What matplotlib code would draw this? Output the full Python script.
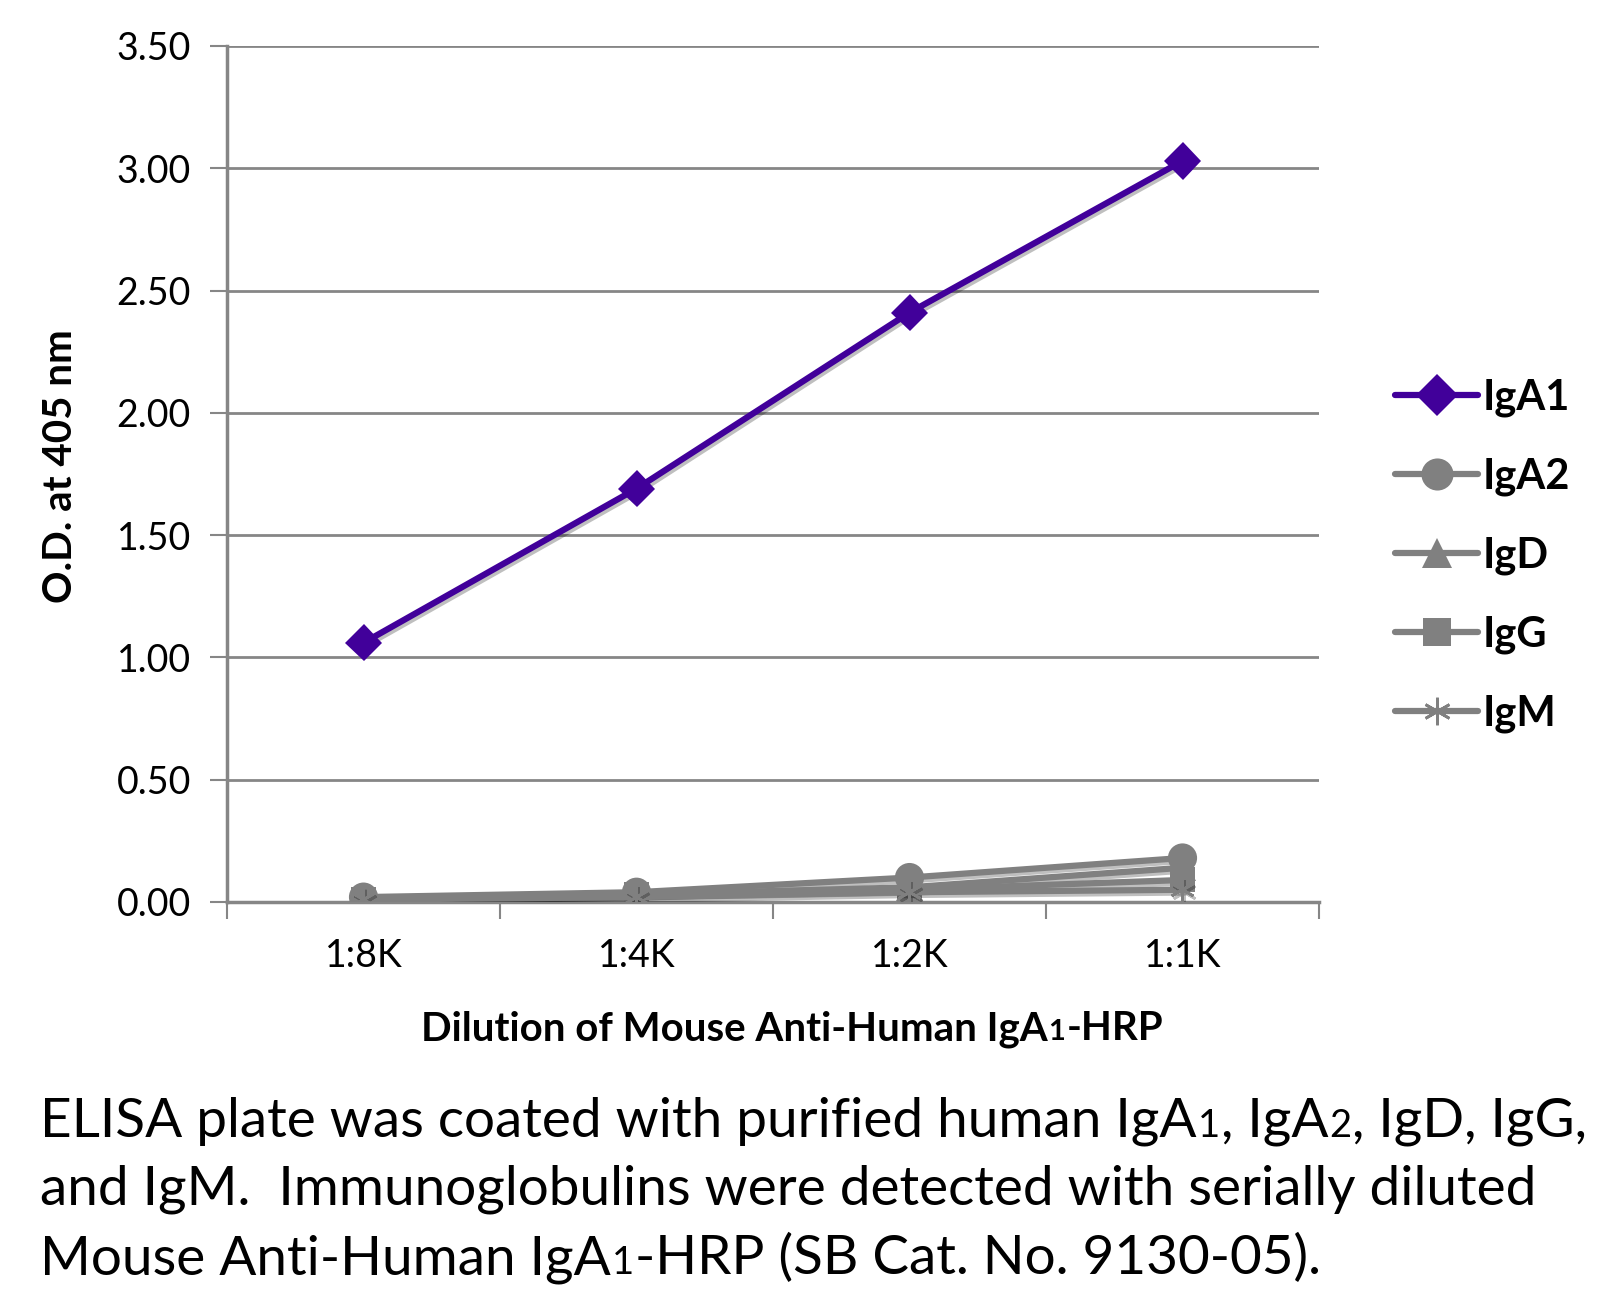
import numpy as np
import matplotlib
matplotlib.use("Agg")
import matplotlib.pyplot as plt
import matplotlib.patheffects as pe
from matplotlib.lines import Line2D

plt.rcParams['font.family'] = ['Lato', 'DejaVu Sans']

# data
dilutions = ['1:8K', '1:4K', '1:2K', '1:1K']
iga1 = [1.06, 1.69, 2.41, 3.03]
iga2 = [0.02, 0.04, 0.10, 0.18]
igd = [0.01, 0.03, 0.06, 0.14]
igg = [0.01, 0.03, 0.05, 0.09]
igm = [0.01, 0.02, 0.04, 0.05]

series = [
    ('IgA1', iga1, '#41009a', 'D'),
    ('IgA2', iga2, '#808080', 'o'),
    ('IgD', igd, '#808080', '^'),
    ('IgG', igg, '#808080', 's'),
    ('IgM', igm, '#808080', (6, 2, 0)),
]
marker_sizes = {'D': 19, 'o': 21, '^': 19, 's': 18}

W, H = 1603, 1306
fig = plt.figure(figsize=(W / 100, H / 100), dpi=100)


def fx(px):
    return px / W


def fy(py):
    return 1 - py / H


ax = fig.add_axes([fx(227), fy(902), fx(1319) - fx(227), fy(46) - fy(902)])

x = np.arange(len(dilutions))
shadow = [pe.SimpleLineShadow(offset=(1.5, -2), alpha=0.25, shadow_color='black'), pe.Normal()]
handles = []
for name, vals, color, marker in series:
    is_star = marker == (6, 2, 0)
    ms = 18 if is_star else marker_sizes[marker]
    style = dict(color=color, lw=4.5, marker=marker, markersize=ms,
                 markeredgewidth=2 if is_star else 0,
                 markeredgecolor=color, markerfacecolor=color, solid_capstyle='round')
    ax.plot(x, vals, label=name, path_effects=shadow, zorder=3, **style)
    lstyle = dict(style)
    lstyle['markersize'] = ms * 1.1
    handles.append(Line2D([], [], label=name, **lstyle))

ax.set_xlim(-0.5, 3.5)
ax.set_ylim(0, 3.5)
yt = np.arange(0, 3.51, 0.5)
ax.set_yticks(yt)
ax.set_yticklabels([f'{v:.2f}' for v in yt])
ax.set_xticks(x)
ax.set_xticklabels(dilutions)
ax.set_xticks(np.arange(-0.5, 3.6, 1), minor=True)
ax.tick_params(axis='x', which='major', length=0, labelsize=27, pad=26)
ax.tick_params(axis='x', which='minor', length=12, width=1.5, color='#868686', direction='out')
ax.tick_params(axis='y', length=12, width=1.5, color='#868686', labelsize=27, pad=14)
ax.grid(axis='y', color='#868686', lw=2)
ax.set_axisbelow(True)
for s in ['top', 'right']:
    ax.spines[s].set_visible(False)
for s in ['left', 'bottom']:
    ax.spines[s].set_color('#868686')
    ax.spines[s].set_linewidth(2.5)

fig.text(fx(61), fy(466), 'O.D. at 405 nm', rotation=90, fontsize=29, fontweight='bold',
         ha='center', va='center')

fig.legend(handles=handles, loc='center left', bbox_to_anchor=(fx(1395), fy(556)), frameon=False,
           prop={'size': 30, 'weight': 'bold'}, handlelength=2.0, handletextpad=0.1,
           labelspacing=0.97, borderpad=0, borderaxespad=0)

renderer = fig.canvas.get_renderer()


def rich_line(x_px, y_px, parts, ha='left', weight='normal'):
    # parts: (text, fontsize); placed side by side on a common baseline
    texts = []
    widths = []
    for s, size in parts:
        t = fig.text(0, fy(y_px), s, fontsize=size, fontweight=weight, va='baseline', ha='left')
        widths.append(t.get_window_extent(renderer).width)
        texts.append(t)
    total = sum(widths)
    start = x_px - total / 2 if ha == 'center' else x_px
    for t, w in zip(texts, widths):
        t.set_x(fx(start))
        start += w + 1


rich_line(791, 1040, [('Dilution of Mouse Anti-Human IgA', 29), ('1', 21), ('-HRP', 29)],
          ha='center', weight='bold')

cap = 39.5
small = 27.5
rich_line(40, 1137, [('ELISA plate was coated with purified human IgA', cap), ('1', small),
                     (', IgA', cap), ('2', small), (', IgD, IgG,', cap)])
rich_line(40, 1205, [('and IgM.  Immunoglobulins were detected with serially diluted', cap)])
rich_line(40, 1274, [('Mouse Anti-Human IgA', cap), ('1', small),
                     ('-HRP (SB Cat. No. 9130-05).', cap)])

fig.savefig('out.png', dpi=100)
